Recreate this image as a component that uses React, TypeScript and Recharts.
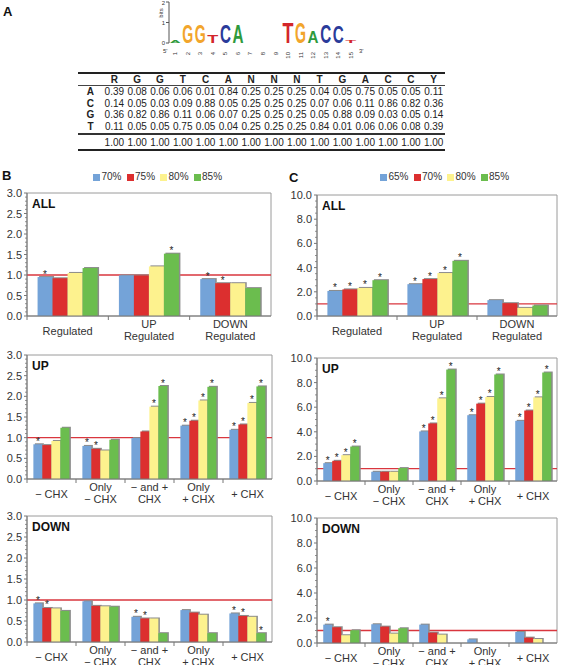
import React from "react";
import {
    BarChart,
    Bar,
    XAxis,
    YAxis,
    ReferenceLine,
    ReferenceArea,
    LabelList,
} from "recharts";

const FONT = "'Liberation Sans', Arial, Helvetica, sans-serif";

// ---- panel A: motif logo + matrix ----
const logoPos = ["1", "2", "3", "4", "5", "6", "7", "8", "9", "10", "11", "12", "13", "14", "15"];
const logoLetters = ["A", "G", "G", "T", "C", "A", "", "", "", "T", "G", "A", "C", "C", "T"];
const logoBits = [0.12, 0.95, 0.95, 0.4, 0.95, 0.9, 0, 0, 0, 1.05, 1.05, 0.6, 0.95, 0.85, 0.15];

const matrixHead = ["R", "G", "G", "T", "C", "A", "N", "N", "N", "T", "G", "A", "C", "C", "Y"];
const matrixRowNames = ["A", "C", "G", "T"];
const rowA = ["0.39", "0.08", "0.06", "0.06", "0.01", "0.84", "0.25", "0.25", "0.25", "0.04", "0.05", "0.75", "0.05", "0.05", "0.11"];
const rowC = ["0.14", "0.05", "0.03", "0.09", "0.88", "0.05", "0.25", "0.25", "0.25", "0.07", "0.06", "0.11", "0.86", "0.82", "0.36"];
const rowG = ["0.36", "0.82", "0.86", "0.11", "0.06", "0.07", "0.25", "0.25", "0.25", "0.05", "0.88", "0.09", "0.03", "0.05", "0.14"];
const rowT = ["0.11", "0.05", "0.05", "0.75", "0.05", "0.04", "0.25", "0.25", "0.25", "0.84", "0.01", "0.06", "0.06", "0.08", "0.39"];
const rowTotal = ["1.00", "1.00", "1.00", "1.00", "1.00", "1.00", "1.00", "1.00", "1.00", "1.00", "1.00", "1.00", "1.00", "1.00", "1.00"];

// ---- panels B and C ----
const seriesColors = ["#74a3d8", "#dc2f2f", "#fdf28e", "#6bbd4e"];
const legendB = ["70%", "75%", "80%", "85%"];
const legendC = ["65%", "70%", "80%", "85%"];

const allCats = ["Regulated", "UP\nRegulated", "DOWN\nRegulated"];
const chxCats = ["\u2212 CHX", "Only\n\u2212 CHX", "\u2212 and +\nCHX", "Only\n+ CHX", "+ CHX"];

// rows = series, columns = categories
const bAllVals = [[0.95, 0.99, 0.9], [0.92, 0.99, 0.8], [1.05, 1.21, 0.8], [1.17, 1.52, 0.68]];
const bAllStars = [[1, 0, 1], [0, 0, 1], [0, 0, 0], [0, 1, 0]];

const bUpVals = [
    [0.84, 0.8, 0.99, 1.29, 1.19],
    [0.82, 0.73, 1.15, 1.41, 1.32],
    [0.92, 0.69, 1.75, 1.9, 1.84],
    [1.24, 0.95, 2.25, 2.23, 2.24],
];
const bUpStars = [[1, 1, 0, 1, 1], [0, 1, 0, 1, 1], [0, 0, 1, 1, 1], [0, 0, 1, 1, 1]];

const bDownVals = [
    [0.92, 0.97, 0.6, 0.76, 0.68],
    [0.81, 0.86, 0.56, 0.7, 0.62],
    [0.8, 0.85, 0.56, 0.65, 0.6],
    [0.74, 0.84, 0.21, 0.21, 0.21],
];
const bDownStars = [[1, 0, 1, 0, 1], [1, 0, 1, 0, 1], [0, 0, 0, 0, 0], [0, 0, 0, 0, 1]];

const cAllVals = [[2.07, 2.63, 1.31], [2.2, 3.05, 1.06], [2.32, 3.55, 0.67], [2.96, 4.56, 0.87]];
const cAllStars = [[1, 1, 0], [1, 1, 0], [1, 1, 0], [1, 1, 0]];

const cUpVals = [
    [1.45, 0.75, 4.03, 5.35, 4.89],
    [1.64, 0.75, 4.68, 6.29, 5.73],
    [2.1, 0.75, 6.72, 6.83, 6.8],
    [2.8, 1.05, 9.06, 8.66, 8.82],
];
const cUpStars = [[1, 0, 1, 1, 1], [1, 0, 1, 1, 1], [1, 0, 1, 1, 1], [1, 0, 1, 1, 1]];

const cDownVals = [
    [1.47, 1.5, 1.47, 0.29, 0.88],
    [1.26, 1.31, 0.83, 0, 0.43],
    [0.62, 0.75, 0.67, 0, 0.32],
    [1.02, 1.18, 0, 0, 0],
];
const cDownStars = [[1, 0, 0, 0, 0], [0, 0, 0, 0, 0], [0, 0, 0, 0, 0], [0, 0, 0, 0, 0]];

const bTicks = [0, 0.5, 1, 1.5, 2, 2.5, 3];
const bMinorTicks = [
    0, 0.1, 0.2, 0.3, 0.4, 0.5, 0.6, 0.7, 0.8, 0.9, 1, 1.1, 1.2, 1.3, 1.4, 1.5,
    1.6, 1.7, 1.8, 1.9, 2, 2.1, 2.2, 2.3, 2.4, 2.5, 2.6, 2.7, 2.8, 2.9, 3,
];
const cTicks = [0, 2, 4, 6, 8, 10];
const cMinorTicks = [
    0, 0.5, 1, 1.5, 2, 2.5, 3, 3.5, 4, 4.5, 5, 5.5, 6, 6.5, 7, 7.5, 8, 8.5, 9, 9.5, 10,
];

const letterColor: Record<string, string> = {
    A: "#2e9a3c",
    C: "#2a3b9a",
    G: "#f2a52c",
    T: "#d3262b",
};

const LetterShape = (props: any) => {
    const { x, y, width, height, payload } = props;
    if (!height || height <= 0 || !payload.letter) return null;
    return (
        <text
            x={0}
            y={0}
            fontSize={10}
            fontFamily={FONT}
            fontWeight="bold"
            fill={letterColor[payload.letter]}
            textLength={width}
            lengthAdjust="spacingAndGlyphs"
            transform={`translate(${x},${y + height}) scale(1,${height / 7.3})`}
        >
            {payload.letter}
        </text>
    );
};

const LogoTick = (props: any) => {
    const { x, y, payload } = props;
    return (
        <text
            x={x + 2}
            y={y + 1}
            fontSize={6}
            fontFamily={FONT}
            fill="#333"
            textAnchor="end"
            transform={`rotate(-90 ${x + 2} ${y + 1})`}
        >
            {payload.value}
        </text>
    );
};

const Logo = () => {
    const data = logoPos.map((p, i) => ({ pos: p, bits: logoBits[i], letter: logoLetters[i] }));
    return (
        <div style={{ position: "absolute", left: 140, top: 0 }}>
            <BarChart
                width={230}
                height={60}
                data={data}
                margin={{ top: 2, right: 13, left: 0, bottom: 0 }}
                barCategoryGap="6%"
            >
                <XAxis dataKey="pos" height={17} axisLine={false} tickLine={false} tick={<LogoTick />} interval={0} />
                <YAxis
                    width={29}
                    domain={[0, 2]}
                    ticks={[0, 1, 2]}
                    tickSize={3}
                    tickMargin={1}
                    stroke="#555"
                    tick={{ fontSize: 6, fill: "#333", fontFamily: FONT }}
                />
                <Bar dataKey="bits" shape={<LetterShape />} isAnimationActive={false} />
            </BarChart>
        </div>
    );
};

const Matrix = () => {
    const rows = [rowA, rowC, rowG, rowT];
    const cell = (t: string, i: number, bold = false) => (
        <div key={i} style={{ width: 22.9, textAlign: "center", fontWeight: bold ? "bold" : "normal" }}>
            {t}
        </div>
    );
    return (
        <div
            style={{
                position: "absolute",
                left: 78,
                top: 72,
                width: 367,
                fontFamily: FONT,
                fontSize: 10,
                color: "#222",
            }}
        >
            <div style={{ borderTop: "2px solid #222" }} />
            <div style={{ display: "flex", height: 11, lineHeight: "11px" }}>
                <div style={{ width: 25 }} />
                {matrixHead.map((h, i) => cell(h, i, true))}
            </div>
            <div style={{ borderTop: "1px solid #444" }} />
            {rows.map((r, ri) => (
                <div key={ri} style={{ display: "flex", height: 11.6, lineHeight: "11.6px" }}>
                    <div style={{ width: 25, textAlign: "center", fontWeight: "bold" }}>{matrixRowNames[ri]}</div>
                    {r.map((v, i) => cell(v, i))}
                </div>
            ))}
            <div style={{ borderTop: "2px solid #333", marginTop: 0.5 }} />
            <div style={{ display: "flex", height: 14, lineHeight: "15px" }}>
                <div style={{ width: 25 }} />
                {rowTotal.map((v, i) => cell(v, i))}
            </div>
            <div style={{ borderTop: "2px solid #222" }} />
        </div>
    );
};

const ShadowBar = (props: any) => {
    const { x, y, width, height, fill } = props;
    if (!height || height <= 0) return null;
    return (
        <g>
            <rect x={x + 1.5} y={y - 1} width={width} height={height + 1} fill="#8c8c8c" />
            <rect x={x} y={y} width={width} height={height} fill={fill} />
        </g>
    );
};

const starLabel = (p: any) =>
    p.value ? (
        <text x={p.x + p.width / 2} y={p.y + 0.5} textAnchor="middle" fontSize={10} fontFamily={FONT} fill="#222">
            *
        </text>
    ) : null;

const makeTick = (band: number) => (props: any) => {
    const { x, y, payload } = props;
    const lines = String(payload.value).split("\n");
    const centers = lines.length === 1 ? [15] : [8, 19.5];
    return (
        <g>
            <line x1={x - band / 2} x2={x - band / 2} y1={y} y2={y + 4} stroke="#777" />
            {lines.map((l, i) => (
                <text key={i} x={x} y={y + centers[i] + 4} textAnchor="middle" fontSize={11} fontFamily={FONT} fill="#333">
                    {l}
                </text>
            ))}
        </g>
    );
};

const makeYTick = (majors: number[]) => (props: any) => {
    const { x, y, payload } = props;
    const v = payload.value as number;
    const isMajor = majors.some((m) => Math.abs(m - v) < 1e-6);
    return (
        <g>
            <line x1={x - (isMajor ? 3 : 2)} x2={x} y1={y} y2={y} stroke="#777" strokeWidth={isMajor ? 1 : 0.8} />
            {isMajor && (
                <text x={x - 5} y={y + 4} textAnchor="end" fontSize={11} fontFamily={FONT} fill="#333">
                    {v.toFixed(1)}
                </text>
            )}
        </g>
    );
};

type PanelProps = {
    left: number;
    top: number;
    width: number;
    height: number;
    yWidth: number;
    xHeight: number;
    cats: string[];
    vals: number[][];
    stars: number[][];
    ticks: number[];
    minorTicks: number[];
    title: string;
};

const Panel = (props: PanelProps) => {
    const { left, top, width, height, yWidth, xHeight, cats, vals, stars, ticks, minorTicks, title } = props;
    const mRight = 4;
    const margin = { top: 8, right: mRight, left: 0, bottom: 0 };
    const plotW = width - yWidth - mRight;
    const data = cats.map((c, i) => ({
        cat: c,
        v0: vals[0][i],
        v1: vals[1][i],
        v2: vals[2][i],
        v3: vals[3][i],
        s0: stars[0][i],
        s1: stars[1][i],
        s2: stars[2][i],
        s3: stars[3][i],
    }));
    const max = ticks[ticks.length - 1];
    const Tick = makeTick(plotW / cats.length);
    const YTick = makeYTick(ticks);
    return (
        <div style={{ position: "absolute", left, top, width, height }}>
            {/* back layer: frame and the 1.0 reference line, so the bars cover it */}
            <div style={{ position: "absolute", left: 0, top: 0 }}>
                <BarChart width={width} height={height} data={data} margin={margin}>
                    <XAxis dataKey="cat" height={xHeight} tick={false} tickLine={false} axisLine={false} />
                    <YAxis width={yWidth} domain={[0, max]} tick={false} tickLine={false} axisLine={false} />
                    <Bar dataKey="v0" fill="#fff" fillOpacity={0} isAnimationActive={false} />
                    <ReferenceArea
                        x1={cats[0]}
                        x2={cats[cats.length - 1]}
                        y1={0}
                        y2={max}
                        fill="none"
                        stroke="#9a9a9a"
                        ifOverflow="visible"
                    />
                    <ReferenceLine y={1} stroke="#d9363e" strokeWidth={1.3} />
                </BarChart>
            </div>
            <div style={{ position: "absolute", left: 0, top: 0 }}>
                <BarChart
                    width={width}
                    height={height}
                    data={data}
                    margin={margin}
                    barGap={0}
                    barCategoryGap="13%"
                >
                    <XAxis
                        dataKey="cat"
                        height={xHeight}
                        tickSize={0}
                        tickMargin={0}
                        interval={0}
                        stroke="#777"
                        tick={<Tick />}
                    />
                    <YAxis
                        width={yWidth}
                        domain={[0, max]}
                        ticks={minorTicks}
                        interval={0}
                        tickSize={0}
                        tickMargin={0}
                        tickLine={false}
                        stroke="#777"
                        tick={<YTick />}
                    />
                    {[0, 1, 2, 3].map((k) => (
                        <Bar
                            key={k}
                            dataKey={`v${k}`}
                            fill={seriesColors[k]}
                            shape={<ShadowBar />}
                            isAnimationActive={false}
                        >
                            <LabelList dataKey={`s${k}`} content={starLabel} />
                        </Bar>
                    ))}
                </BarChart>
            </div>
            <div
                style={{
                    position: "absolute",
                    left: yWidth + 5,
                    top: 12,
                    fontFamily: FONT,
                    fontWeight: "bold",
                    fontSize: 12,
                    color: "#111",
                }}
            >
                {title}
            </div>
        </div>
    );
};

const LegendRow = ({ left, names }: { left: number; names: string[] }) => (
    <div
        style={{
            position: "absolute",
            left,
            top: 171,
            display: "flex",
            fontFamily: FONT,
            fontSize: 10,
            color: "#333",
            lineHeight: "12px",
        }}
    >
        {names.map((n, i) => (
            <div key={n} style={{ display: "flex", alignItems: "center", marginRight: 5 }}>
                <div style={{ width: 7, height: 7, background: seriesColors[i], marginRight: 1.5 }} />
                {n}
            </div>
        ))}
    </div>
);

const letterStyle: React.CSSProperties = {
    position: "absolute",
    fontFamily: FONT,
    fontWeight: "bold",
    fontSize: 13,
    color: "#111",
};

export default function App() {
    return (
        <div
            style={{
                position: "absolute",
                left: 0,
                top: 0,
                width: 561,
                height: 665,
                overflow: "hidden",
                background: "#fff",
            }}
        >
            <div style={{ ...letterStyle, left: 3, top: 4 }}>A</div>
            <div style={{ ...letterStyle, left: 2, top: 168 }}>B</div>
            <div style={{ ...letterStyle, left: 289, top: 170 }}>C</div>

            <Logo />
            <div style={{ position: "absolute", left: 156, top: 10, fontFamily: FONT, fontSize: 6, color: "#333", transform: "rotate(-90deg)" }}>
                bits
            </div>
            <div style={{ position: "absolute", left: 163, top: 48, fontFamily: FONT, fontSize: 6, color: "#333" }}>5'</div>
            <div style={{ position: "absolute", left: 359, top: 48, fontFamily: FONT, fontSize: 6, color: "#333" }}>3'</div>
            <Matrix />

            <LegendRow left={93} names={legendB} />
            <LegendRow left={380} names={legendC} />

            <Panel left={0} top={185} width={275} height={160} yWidth={27} xHeight={29} cats={allCats} vals={bAllVals} stars={bAllStars} ticks={bTicks} minorTicks={bMinorTicks} title="ALL" />
            <Panel left={0} top={347} width={276} height={162} yWidth={27} xHeight={30} cats={chxCats} vals={bUpVals} stars={bUpStars} ticks={bTicks} minorTicks={bMinorTicks} title="UP" />
            <Panel left={0} top={508} width={276} height={157} yWidth={27} xHeight={23} cats={chxCats} vals={bDownVals} stars={bDownStars} ticks={bTicks} minorTicks={bMinorTicks} title="DOWN" />

            <Panel left={280} top={187} width={281} height={158} yWidth={37} xHeight={29} cats={allCats} vals={cAllVals} stars={cAllStars} ticks={cTicks} minorTicks={cMinorTicks} title="ALL" />
            <Panel left={280} top={350} width={281} height={161} yWidth={37} xHeight={30} cats={chxCats} vals={cUpVals} stars={cUpStars} ticks={cTicks} minorTicks={cMinorTicks} title="UP" />
            <Panel left={280} top={510} width={281} height={155} yWidth={37} xHeight={22} cats={chxCats} vals={cDownVals} stars={cDownStars} ticks={cTicks} minorTicks={cMinorTicks} title="DOWN" />
        </div>
    );
}
